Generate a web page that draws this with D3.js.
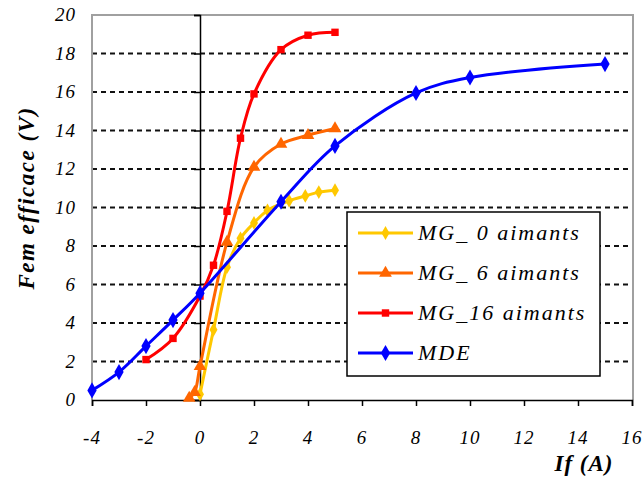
<!DOCTYPE html>
<html><head><meta charset="utf-8">
<script src="https://cdn.jsdelivr.net/npm/d3@7"></script>
<style>
html,body{margin:0;padding:0;background:#fff;}
svg{display:block;}
svg text{font-family:"Liberation Serif",serif;font-style:italic;}
</style></head>
<body>
<script>
// ---- data ----
const seriesNames = ["MG_ 0 aimants", "MG_ 6 aimants", "MG_16 aimants", "MDE"];
const mg0X  = [0, 0.5, 1, 1.5, 2, 2.5, 3.3, 3.9, 4.4, 5];
const mg0Y  = [0.3, 3.65, 6.9, 8.4, 9.2, 9.85, 10.35, 10.6, 10.8, 10.9];
const mg6X  = [-0.4, -0.2, 0, 1, 2, 3, 4, 5];
const mg6Y  = [0.1, 0.4, 1.75, 8.2, 12.1, 13.3, 13.75, 14.1];
const mg16X = [-2, -1, 0, 0.5, 1, 1.5, 2, 3, 4, 5];
const mg16Y = [2.1, 3.2, 5.4, 7.0, 9.8, 13.6, 15.9, 18.2, 18.95, 19.1];
const mdeX  = [-4, -3, -2, -1, 0, 3, 5, 8, 10, 15];
const mdeY  = [0.5, 1.45, 2.8, 4.15, 5.55, 10.3, 13.2, 15.95, 16.75, 17.45];
const xTicks = [-4, -2, 0, 2, 4, 6, 8, 10, 12, 14, 16];
const yTicks = [0, 2, 4, 6, 8, 10, 12, 14, 16, 18, 20];
const xTitle = "If (A)";
const yTitle = "Fem efficace (V)";

const FONT = "Liberation Serif";
const W = 644, H = 481;
const L = 92, R = 632, T = 15, B = 400;
const svg = d3.select("body").append("svg").attr("width", W).attr("height", H);

const x = d3.scaleLinear().domain([-4, 16]).range([L, R]);
const y = d3.scaleLinear().domain([0, 20]).range([B, T]);

function txt(sel) {
  return sel.attr("font-family", FONT).attr("font-style", "italic");
}

// grid
svg.append("g").selectAll("line").data(yTicks.filter(v => v > 0 && v < 20)).join("line")
  .attr("x1", L).attr("x2", R).attr("y1", d => y(d)).attr("y2", d => y(d))
  .attr("stroke", "#111").attr("stroke-width", 1.8).attr("stroke-dasharray", "5,4");

// frame (top, right, left)
svg.append("path").attr("d", `M${L},${B}V${T}H${R+1}V${B}`)
  .attr("fill", "none").attr("stroke", "#a0a0a0").attr("stroke-width", 2);

// x axis
const xAxis = svg.append("g").attr("transform", `translate(0,${B})`)
  .call(d3.axisBottom(x).tickValues(xTicks).tickSize(6).tickFormat(""));
xAxis.select(".domain").attr("stroke", "#000").attr("stroke-width", 1.5);
xAxis.selectAll(".tick line").attr("stroke", "#000").attr("stroke-width", 1.5);
txt(svg.append("g").selectAll("text").data(xTicks).join("text")
  .attr("x", d => x(d)).attr("y", 444).attr("text-anchor", "middle")
  .attr("letter-spacing", 1).attr("font-size", 19).text(d => d));

// y axis at x=0
const yAxis = svg.append("g").attr("transform", `translate(${x(0)},0)`)
  .call(d3.axisLeft(y).tickValues(yTicks).tickSize(6).tickFormat(""));
yAxis.select(".domain").attr("stroke", "#000").attr("stroke-width", 1.5);
yAxis.selectAll(".tick line").attr("stroke", "#000").attr("stroke-width", 1.5);
txt(svg.append("g").selectAll("text").data(yTicks).join("text")
  .attr("x", 76).attr("y", d => y(d) + 6).attr("text-anchor", "end")
  .attr("letter-spacing", 1).attr("font-size", 19).text(d => d));

// titles
txt(svg.append("text").attr("x", 584).attr("y", 471).attr("text-anchor", "middle")
  .attr("letter-spacing", 1).attr("font-size", 23).attr("font-weight", "bold").text(xTitle));
txt(svg.append("text").attr("transform", "translate(34,198) rotate(-90)").attr("text-anchor", "middle")
  .attr("letter-spacing", 1.5).attr("font-size", 23).attr("font-weight", "bold").text(yTitle));

// series
const series = [
  {name: seriesNames[0], xs: mg0X, ys: mg0Y, color: "#FFC800", sym: d3.symbolDiamond, size: 55},
  {name: seriesNames[1], xs: mg6X, ys: mg6Y, color: "#FF6600", sym: d3.symbolTriangle, size: 70},
  {name: seriesNames[2], xs: mg16X, ys: mg16Y, color: "#FF0000", sym: d3.symbolSquare, size: 55},
  {name: seriesNames[3], xs: mdeX, ys: mdeY, color: "#0000FF", sym: d3.symbolDiamond, size: 75}
];
const line = d3.line().x(d => x(d[0])).y(d => y(d[1])).curve(d3.curveCatmullRom.alpha(0.5));
series.forEach(s => {
  const pts = s.xs.map((v, i) => [v, s.ys[i]]);
  svg.append("path").datum(pts).attr("d", line).attr("fill", "none")
    .attr("stroke", s.color).attr("stroke-width", 3);
  svg.append("g").selectAll("path").data(pts).join("path")
    .attr("transform", d => `translate(${x(d[0])},${y(d[1])})`)
    .attr("d", d3.symbol().type(s.sym).size(s.size)).attr("fill", s.color);
});

// legend
const lg = svg.append("g");
lg.append("rect").attr("x", 347).attr("y", 212).attr("width", 253).attr("height", 164)
  .attr("fill", "#fff").attr("stroke", "#000").attr("stroke-width", 1.5);
series.forEach((s, i) => {
  const ly = 233 + i * 40;
  lg.append("line").attr("x1", 358).attr("x2", 413).attr("y1", ly).attr("y2", ly)
    .attr("stroke", s.color).attr("stroke-width", 3);
  lg.append("path").attr("transform", `translate(385.5,${ly})`)
    .attr("d", d3.symbol().type(s.sym).size(s.size)).attr("fill", s.color);
  txt(lg.append("text").attr("x", 418).attr("y", ly + 7)
    .attr("letter-spacing", 2).attr("font-size", 22).text(s.name));
});
</script>
</body></html>
